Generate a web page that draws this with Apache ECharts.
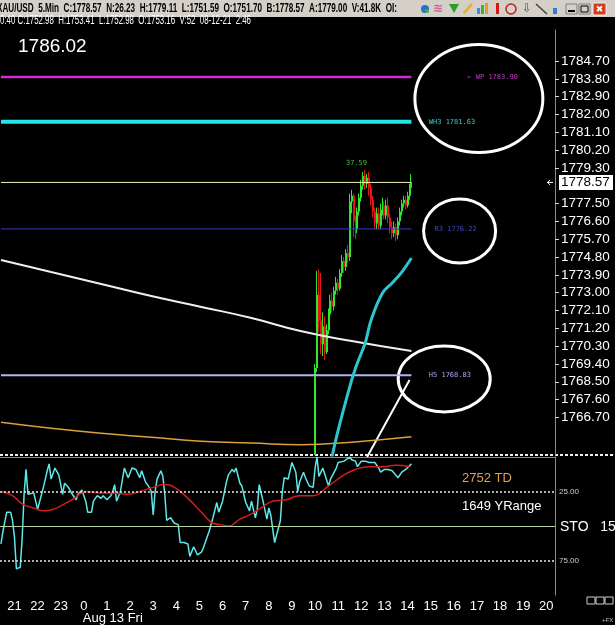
<!DOCTYPE html>
<html>
<head>
<meta charset="utf-8">
<script src="https://cdn.jsdelivr.net/npm/echarts@6/dist/echarts.min.js"></script>
<style>html,body{margin:0;padding:0;background:#000}#main{width:615px;height:625px}</style>
</head>
<body>
<div id="main"></div>
<script>
// XAU/USD 5 分钟图: K 线 + 均线 + 关键价位 + STO 指标

function pad(n) { return (n < 10 ? '0' : '') + n; }

// 时间轴: 8/12 20:25 到 8/13 20:20, 每 5 分钟一根
var times = [];
for (var i = 0; i < 288; i++) {
    var m = (20 * 60 + 25 + i * 5) % 1440;
    times.push(pad(Math.floor(m / 60)) + ':' + pad(m % 60));
}

var priceTicks = [1766.70, 1767.60, 1768.50, 1769.40, 1770.30, 1771.20, 1772.10, 1773.00, 1773.90, 1774.80,
    1775.70, 1776.60, 1777.50, 1779.30, 1780.20, 1781.10, 1782.00, 1782.90, 1783.80, 1784.70];
var stoTicks = [25, 75];

var candleStart = '10:00';
var ohlc = [ // 开盘价,收盘价,最低价,最高价
    [1753.00, 1769.20, 1752.90, 1769.40], [1769.20, 1772.90, 1769.00, 1774.10], [1772.90, 1771.60, 1771.00, 1774.20],
    [1771.60, 1770.40, 1769.90, 1774.00], [1770.40, 1771.30, 1769.80, 1772.00], [1771.30, 1770.00, 1769.60, 1771.80],
    [1770.00, 1771.10, 1769.90, 1771.40], [1771.10, 1771.90, 1770.90, 1772.20], [1771.90, 1772.60, 1771.60, 1772.90],
    [1772.60, 1772.30, 1772.00, 1773.00], [1772.30, 1773.10, 1772.10, 1773.30], [1773.10, 1773.50, 1772.90, 1773.80],
    [1773.50, 1773.20, 1772.90, 1773.70], [1773.20, 1774.00, 1773.10, 1774.20], [1774.00, 1774.60, 1773.80, 1774.90],
    [1774.60, 1774.30, 1774.00, 1774.80], [1774.30, 1775.00, 1774.10, 1775.20], [1775.00, 1774.80, 1774.50, 1775.40],
    [1774.80, 1777.60, 1774.60, 1778.00], [1777.60, 1777.90, 1777.00, 1778.20], [1777.90, 1776.60, 1775.80, 1778.00],
    [1776.60, 1776.20, 1775.70, 1776.90], [1776.20, 1777.10, 1776.00, 1777.30], [1777.10, 1777.80, 1776.90, 1778.00],
    [1777.80, 1778.40, 1777.60, 1778.70], [1778.40, 1778.90, 1778.20, 1779.10], [1778.90, 1778.50, 1778.20, 1779.20],
    [1778.50, 1778.80, 1778.30, 1779.00], [1778.80, 1778.30, 1777.90, 1779.10], [1778.30, 1777.70, 1777.40, 1778.50],
    [1777.70, 1777.10, 1776.80, 1777.90], [1777.10, 1776.50, 1776.20, 1777.30], [1776.50, 1777.00, 1776.20, 1777.30],
    [1777.00, 1776.40, 1776.20, 1777.30], [1776.40, 1777.20, 1776.20, 1777.50], [1777.20, 1777.40, 1776.90, 1777.80],
    [1777.40, 1776.90, 1776.70, 1777.60], [1776.90, 1777.40, 1776.70, 1777.70], [1777.40, 1776.80, 1776.50, 1777.80],
    [1776.80, 1776.30, 1776.00, 1777.00], [1776.30, 1776.00, 1775.70, 1776.60], [1776.00, 1776.30, 1775.80, 1776.60],
    [1776.30, 1775.90, 1775.60, 1776.50], [1775.90, 1776.60, 1775.70, 1776.80], [1776.60, 1777.10, 1776.40, 1777.30],
    [1777.10, 1777.50, 1776.90, 1777.70], [1777.50, 1777.70, 1777.30, 1777.90], [1777.70, 1777.40, 1777.20, 1777.90],
    [1777.40, 1777.90, 1777.30, 1778.10], [1777.90, 1778.30, 1777.70, 1778.50], [1778.30, 1778.57, 1778.10, 1779.00]
];

// 均线 [K线序号, 价格]
var maWhite = [[0, 1774.65], [26, 1774.04], [52, 1773.44], [78, 1772.83], [104, 1772.28], [130, 1771.72], [156, 1771.05], [182, 1770.56], [213, 1770.05]];
var maOrange = [[0, 1766.45], [26, 1766.15], [52, 1765.90], [78, 1765.70], [104, 1765.50], [130, 1765.40], [156, 1765.32], [182, 1765.45], [213, 1765.72]];
var maCyan = [[163, 1758.5], [168, 1762.3], [172, 1764.8], [180, 1767.9], [184, 1769.2], [189, 1770.46], [192, 1771.6], [198, 1772.98], [203, 1773.49], [208, 1774.04], [213, 1774.75]];

// 关键价位
var levelNames = ['WP', 'WH3', 'R3', 'H5', 'Last'];
var levelValues = [1783.90, 1781.63, 1776.22, 1768.83, 1778.57];
var levelColors = ['#d42ad4', '#22e6e6', '#3a3ac8', '#b4b4f4', '#f2f2b8'];
var levelWidths = [2.5, 4, 1, 2, 1];
var levelLabels = ['\u2190 WP 1783.90', 'WH3 1781.63', 'R3 1776.22', 'H5 1768.83'];
var levelLabelAt = [242, 222, 225, 222];
var levelLabelColors = ['#c83ac8', '#3cc8c8', '#3a48c8', '#a8a8f0'];

// STO 15
var stochK = [[0, 63], [1, 54], [3, 40], [5, 40], [6, 46], [7, 58], [8, 81], [10, 80], [11, 59], [12, 27], [13, 9], [14, 27], [15, 28], [17, 26],
    [19, 38], [20, 39], [22, 22], [24, 10], [25, 5], [26, 16], [28, 8], [30, 13], [32, 27], [33, 19], [35, 22], [37, 27], [39, 31], [40, 27],
    [42, 24], [44, 32], [45, 40], [47, 40], [48, 32], [50, 28], [52, 30], [53, 28], [55, 31], [57, 28], [58, 25], [59, 20], [60, 32], [62, 25],
    [64, 8], [65, 7], [66, 15], [68, 8], [70, 9], [72, 15], [73, 10], [75, 18], [77, 22], [78, 25], [79, 42], [80, 25], [81, 16], [83, 10],
    [84, 14], [85, 27], [86, 46], [88, 44], [90, 48], [92, 49], [93, 62], [95, 62], [97, 63], [98, 72], [100, 65], [102, 71], [104, 69],
    [105, 66], [106, 62], [108, 54], [110, 44], [112, 33], [113, 40], [115, 32], [117, 18], [118, 13], [120, 9], [121, 11], [122, 8],
    [124, 19], [125, 21], [127, 33], [129, 39], [130, 32], [132, 44], [133, 38], [134, 20], [136, 32], [138, 45], [139, 37], [140, 42],
    [142, 62], [143, 63], [145, 46], [146, 25], [147, 15], [149, 16], [151, 4], [152, 3], [153, 11], [154, 25], [155, 18], [157, 11],
    [158, 15], [160, 21], [162, 22], [163, 8], [164, 0], [165, 14], [167, 8], [168, 9], [170, 21], [171, 16], [172, 15], [174, 8],
    [175, 4], [178, 3], [179, 2], [181, 0], [182, 2], [184, 3], [185, 7], [187, 3], [189, 3], [191, 4], [192, 3], [194, 4], [196, 8],
    [197, 11], [199, 9], [201, 9], [203, 10], [204, 11], [206, 15], [208, 11], [210, 9], [211, 9], [213, 5]];
var stochD = [[0, 25], [6, 28], [11, 34], [17, 37], [22, 39], [27, 38], [33, 34], [38, 30], [44, 25], [52, 26], [59, 26], [65, 27],
    [72, 25], [79, 22], [85, 20], [90, 22], [97, 30], [104, 40], [108, 46], [110, 48], [114, 49], [118, 50], [124, 45], [129, 42],
    [136, 36], [141, 32], [148, 31], [155, 28], [162, 28], [169, 22], [178, 13], [184, 9], [191, 7], [198, 7], [205, 6], [212, 7]];

// 手绘标注 (椭圆圈: 中心 K 线序号, 价格, 半径)
var circles = [[248, 1782.81, 64, 54], [238, 1776.11, 36, 32], [230, 1768.64, 46, 33]];
var arrowLine = [[212, 1768.59], [190, 1764.70]];

var chartDom = document.getElementById('main');
var myChart = echarts.init(chartDom);

var startIdx = times.indexOf(candleStart);
var lastIdx = startIdx + ohlc.length - 1;
var candleData = ohlc.map(function (b, k) { return [startIdx + k].concat(b); });

// 自绘 K 线, 超出价格区的部分裁掉
function renderCandle(params, api) {
    var x = api.value(0), o = api.value(1), c = api.value(2), l = api.value(3), h = api.value(4);
    var cs = params.coordSys;
    var pO = api.coord([x, o]), pC = api.coord([x, c]), pL = api.coord([x, l]), pH = api.coord([x, h]);
    var cx = Math.round(pO[0]);
    var color = c >= o ? '#2ee62e' : '#e61414';
    var wTop = Math.max(pH[1], cs.y), wBot = Math.min(pL[1], cs.y + cs.height);
    var body = echarts.graphic.clipRectByRect({
        x: cx - 1, y: Math.min(pO[1], pC[1]), width: 2, height: Math.max(Math.abs(pO[1] - pC[1]), 1)
    }, { x: cs.x, y: cs.y, width: cs.width, height: cs.height });
    var children = [];
    if (wBot > wTop) {
        children.push({ type: 'line', shape: { x1: cx - 0.5, y1: wTop, x2: cx - 0.5, y2: wBot }, style: { stroke: color, lineWidth: 1 } });
    }
    if (body) {
        children.push({ type: 'rect', shape: body, style: { fill: color } });
    }
    return { type: 'group', children: children };
}

var series = [];
levelValues.forEach(function (v, i) {
    series.push({
        type: 'line', xAxisIndex: 0, yAxisIndex: 0, symbol: 'none', silent: true,
        data: [[0, v], [lastIdx, v]],
        lineStyle: { color: levelColors[i], width: levelWidths[i] }
    });
});
series.push({ type: 'line', xAxisIndex: 0, yAxisIndex: 0, symbol: 'none', smooth: true, data: maWhite, lineStyle: { color: '#f4eeee', width: 2 } });
series.push({ type: 'line', xAxisIndex: 0, yAxisIndex: 0, symbol: 'none', smooth: true, data: maOrange, lineStyle: { color: '#dca03a', width: 1.5 } });
series.push({
    type: 'custom', xAxisIndex: 0, yAxisIndex: 0, data: candleData, renderItem: renderCandle,
    encode: { x: 0, y: [1, 2, 3, 4] }
});
series.push({ type: 'line', xAxisIndex: 0, yAxisIndex: 0, symbol: 'none', smooth: 0.4, data: maCyan, lineStyle: { color: '#2cc6cc', width: 3 } });
series.push({
    type: 'line', xAxisIndex: 1, yAxisIndex: 1, symbol: 'none', data: stochK, lineStyle: { color: '#5ee8e8', width: 1.5 },
    markLine: {
        silent: true, symbol: 'none', label: { show: false },
        data: [
            { yAxis: 25, lineStyle: { color: '#e8e8e8', type: [2, 2], width: 1.5 } },
            { yAxis: 50, lineStyle: { color: '#b8d2a4', type: 'solid', width: 1 } },
            { yAxis: 75, lineStyle: { color: '#e8e8e8', type: [2, 2], width: 1.5 } }
        ]
    }
});
series.push({ type: 'line', xAxisIndex: 1, yAxisIndex: 1, symbol: 'none', smooth: true, data: stochD, lineStyle: { color: '#d41c1c', width: 1.5 } });

var option = {
    backgroundColor: '#000',
    animation: false,
    textStyle: { fontFamily: 'Liberation Sans, Arial, sans-serif' },
    grid: [
        { left: 0, right: 60, top: 30, bottom: 170 },
        { left: 0, right: 60, top: 457, bottom: 30 }
    ],
    xAxis: [
        { type: 'category', gridIndex: 0, data: times, axisLine: { show: false }, axisTick: { show: false }, axisLabel: { show: false }, splitLine: { show: false } },
        {
            type: 'category', gridIndex: 1, data: times, axisLine: { lineStyle: { color: '#8a8a8a' } }, axisTick: { show: false }, splitLine: { show: false },
            axisLabel: {
                color: '#fff', fontSize: 13, margin: 5,
                interval: function (i, v) { return v.slice(3) === '00'; },
                formatter: function (v) { return String(parseInt(v.slice(0, 2), 10)); }
            }
        }
    ],
    yAxis: [
        {
            type: 'value', gridIndex: 0, position: 'right', min: 1764.80, max: 1786.27, splitLine: { show: false },
            axisLine: { show: true, lineStyle: { color: '#8a8a8a' } },
            axisTick: { show: true, length: 4, lineStyle: { color: '#dddddd' }, customValues: priceTicks },
            axisLabel: { color: '#fff', fontSize: 13.5, margin: 6, customValues: priceTicks, formatter: function (v) { return v.toFixed(2); } }
        },
        {
            type: 'value', gridIndex: 1, position: 'right', inverse: true, min: 0, max: 100, splitLine: { show: false },
            axisLine: { show: true, lineStyle: { color: '#8a8a8a' } }, axisTick: { show: false },
            axisLabel: { color: '#d0d0d0', fontSize: 8, margin: 4, customValues: stoTicks, formatter: function (v) { return v.toFixed(2); } }
        }
    ],
    series: series
};

option && myChart.setOption(option);

// ---- 标注和表头 ----
function px(idx, v) { return myChart.convertToPixel({ gridIndex: 0 }, [idx, v]); }
var measureCtx = document.createElement('canvas').getContext('2d');
function fitText(str, font, x, y, w, color) {
    measureCtx.font = font;
    var tw = measureCtx.measureText(str).width;
    return { type: 'text', x: x, y: y, scaleX: w / tw, style: { text: str, font: font, fill: color, textVerticalAlign: 'middle' } };
}

var g = [];
// 表头
g.push({ type: 'rect', shape: { x: 0, y: 0, width: 615, height: 17 }, style: { fill: '#d4d0c8' } });
g.push(fitText('XAU/USD  5.Min  C:1778.57  N:26.23  H:1779.11  L:1751.59  O:1751.70  B:1778.57  A:1779.00  V:41.8K  OI:', 'bold 12px "Liberation Sans"', -3, 9, 400, '#000'));
g.push(fitText('0:40 C:1752.98  H:1753.41  L:1752.98  O:1753.16  V:52  08-12-21  2:46', '12px "Liberation Sans"', 0, 21, 251, '#fff'));
// 工具图标
g.push({ type: 'circle', shape: { cx: 425, cy: 9, r: 4 }, style: { fill: '#2a6fd0' } });
g.push({ type: 'circle', shape: { cx: 427, cy: 11, r: 2 }, style: { fill: '#3cb43c' } });
g.push({ type: 'text', x: 433, y: 9, style: { text: '\u224b', font: 'bold 12px "DejaVu Sans"', fill: '#d05a9a', textVerticalAlign: 'middle' } });
g.push({ type: 'polygon', shape: { points: [[449, 4], [459, 4], [454, 13]] }, style: { fill: '#2aa02a' } });
g.push({ type: 'line', shape: { x1: 464, y1: 13, x2: 472, y2: 4 }, style: { stroke: '#e0b020', lineWidth: 2.5 } });
g.push({ type: 'rect', shape: { x: 477, y: 8, width: 3, height: 6 }, style: { fill: '#3a8ae0' } });
g.push({ type: 'rect', shape: { x: 481, y: 5, width: 3, height: 9 }, style: { fill: '#3ab43a' } });
g.push({ type: 'rect', shape: { x: 485, y: 3, width: 3, height: 11 }, style: { fill: '#e0a020' } });
g.push({ type: 'rect', shape: { x: 496, y: 3, width: 3, height: 11 }, style: { fill: '#d41818' } });
g.push({ type: 'circle', shape: { cx: 511, cy: 9, r: 5 }, style: { fill: 'none', stroke: '#c02020', lineWidth: 1.5 } });
g.push({ type: 'text', x: 522, y: 9, style: { text: '\u21e9', font: '12px "DejaVu Sans"', fill: '#505080', textVerticalAlign: 'middle' } });
g.push({ type: 'line', shape: { x1: 536, y1: 4, x2: 547, y2: 14 }, style: { stroke: '#404040', lineWidth: 1.5 } });
g.push({ type: 'rect', shape: { x: 553, y: 8, width: 4, height: 6 }, style: { fill: '#3a78d0' } });
g.push({ type: 'rect', shape: { x: 566, y: 4, width: 11, height: 10 }, style: { fill: '#d4d0c8', stroke: '#808080' } });
g.push({ type: 'line', shape: { x1: 568, y1: 11, x2: 575, y2: 11 }, style: { stroke: '#000', lineWidth: 2 } });
g.push({ type: 'rect', shape: { x: 579, y: 4, width: 11, height: 10 }, style: { fill: '#d4d0c8', stroke: '#808080' } });
g.push({ type: 'rect', shape: { x: 581, y: 6, width: 7, height: 6 }, style: { fill: 'none', stroke: '#000' } });
g.push({ type: 'rect', shape: { x: 593, y: 3, width: 13, height: 12 }, style: { fill: '#d83a1e', stroke: '#f0f0f0' } });
g.push({ type: 'text', x: 599.5, y: 9.5, style: { text: '\u2716', font: 'bold 9px "DejaVu Sans"', fill: '#fff', textAlign: 'center', textVerticalAlign: 'middle' } });

// 左上角价格
g.push({ type: 'text', x: 18, y: 47, style: { text: '1786.02', font: '19px "Liberation Sans"', fill: '#fff', textVerticalAlign: 'middle' } });

// 面板分隔虚线
var sepY = px(0, 1764.80)[1];
g.push({ type: 'line', shape: { x1: 0, y1: sepY, x2: 615, y2: sepY }, style: { stroke: '#f0f0f0', lineWidth: 2, lineDash: [3, 2] } });

// 价位文字
levelLabels.forEach(function (s, i) {
    var p = px(levelLabelAt[i], levelValues[i]);
    g.push({ type: 'text', x: p[0], y: p[1], style: { text: s, font: '7px "DejaVu Sans Mono"', fill: levelLabelColors[i], textVerticalAlign: 'middle' } });
});
var hp = px(179, 1779.55);
g.push({ type: 'text', x: hp[0], y: hp[1], style: { text: '37.59', font: '7px "DejaVu Sans Mono"', fill: '#3cc83c', textVerticalAlign: 'middle' } });

// 手绘椭圆和斜线
circles.forEach(function (c) {
    var p = px(c[0], c[1]);
    g.push({ type: 'ellipse', shape: { cx: p[0], cy: p[1], rx: c[2], ry: c[3] }, style: { fill: 'none', stroke: '#fff', lineWidth: 3 } });
});
var a0 = px(arrowLine[0][0], arrowLine[0][1]), a1 = px(arrowLine[1][0], arrowLine[1][1]);
g.push({ type: 'line', shape: { x1: a0[0], y1: a0[1], x2: a1[0], y2: a1[1] }, style: { stroke: '#fff', lineWidth: 2 } });

// 最新价标签
var lp = px(lastIdx, 1778.57);
g.push({ type: 'polyline', shape: { points: [[550, lp[1] - 2.5], [547.5, lp[1]], [550, lp[1] + 2.5]] }, style: { stroke: '#fff', lineWidth: 1 } });
g.push({ type: 'line', shape: { x1: 547.5, y1: lp[1], x2: 553, y2: lp[1] }, style: { stroke: '#fff', lineWidth: 1 } });
g.push({ type: 'rect', shape: { x: 559, y: lp[1] - 7.5, width: 54, height: 15 }, style: { fill: '#fff' } });
g.push({ type: 'text', x: 561, y: lp[1], style: { text: '1778.57', font: '13.5px "Liberation Sans"', fill: '#000', textVerticalAlign: 'middle' } });

// 右侧文字
g.push({ type: 'text', x: 462, y: 478, style: { text: '2752 TD', font: '13px "Liberation Sans"', fill: '#e0a048', textVerticalAlign: 'middle' } });
g.push({ type: 'text', x: 462, y: 506, style: { text: '1649 YRange', font: '13px "Liberation Sans"', fill: '#fff', textVerticalAlign: 'middle' } });
g.push({ type: 'text', x: 560, y: 527, style: { text: 'STO   15,', font: '14px "Liberation Sans"', fill: '#fff', textVerticalAlign: 'middle' } });

// 日期
var dp = myChart.convertToPixel({ gridIndex: 1 }, [times.indexOf('00:00'), 0]);
g.push({ type: 'text', x: dp[0] - 1, y: 618, style: { text: 'Aug 13 Fri', font: '13px "Liberation Sans"', fill: '#fff', textVerticalAlign: 'middle' } });

// 右下角
[587, 596, 605].forEach(function (x) {
    g.push({ type: 'rect', shape: { x: x, y: 597, width: 8, height: 7 }, style: { fill: 'none', stroke: '#d0d0d0', lineWidth: 1 } });
});
g.push({ type: 'text', x: 602, y: 620, style: { text: '+FX', font: '6px "Liberation Sans"', fill: '#c0c0c0', textVerticalAlign: 'middle' } });

myChart.setOption({ graphic: g });
</script>
</body>
</html>
